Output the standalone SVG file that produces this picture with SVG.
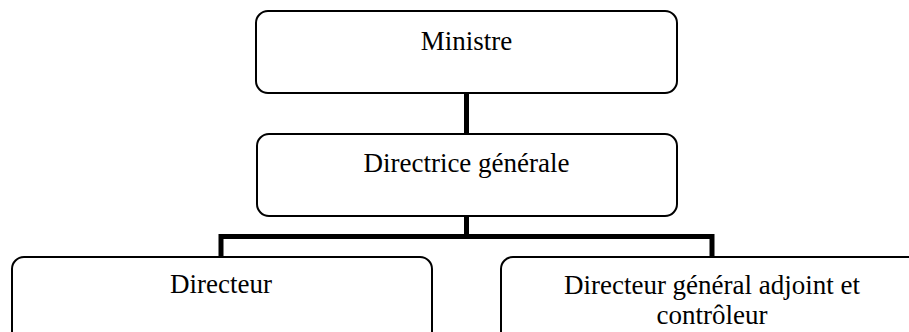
<svg xmlns="http://www.w3.org/2000/svg" width="909" height="332" viewBox="0 0 909 332">
<style>
.box{fill:#fff;stroke:#000;stroke-width:2}
.lbl{font-family:"Liberation Serif","Times New Roman",serif;font-size:27px;fill:#000;text-anchor:middle}
.conn{fill:none;stroke:#000;stroke-width:5;stroke-linecap:square}
</style>
<rect width="909" height="332" fill="#fff"/>
<g id="connectors">
<line class="conn" x1="466.5" y1="94" x2="466.5" y2="133"/>
<line class="conn" x1="466.5" y1="217" x2="466.5" y2="236.5"/>
<polyline class="conn" points="221,256 221,236.5 712,236.5 712,256"/>
</g>
<g id="ministre">
<rect class="box" x="256" y="11" width="421" height="82" rx="12"/>
<text class="lbl" x="466.5" y="50">Ministre</text>
</g>
<g id="directrice">
<rect class="box" x="257" y="134" width="420" height="82" rx="12"/>
<text class="lbl" x="466.5" y="172">Directrice générale</text>
</g>
<g id="directeur">
<rect class="box" x="12" y="257" width="420" height="90" rx="12"/>
<text class="lbl" x="221" y="293">Directeur</text>
</g>
<g id="dga">
<rect class="box" x="501" y="257" width="421" height="90" rx="12"/>
<text class="lbl" x="712" y="294">Directeur général adjoint et</text>
<text class="lbl" x="712" y="324">contrôleur</text>
</g>
</svg>
